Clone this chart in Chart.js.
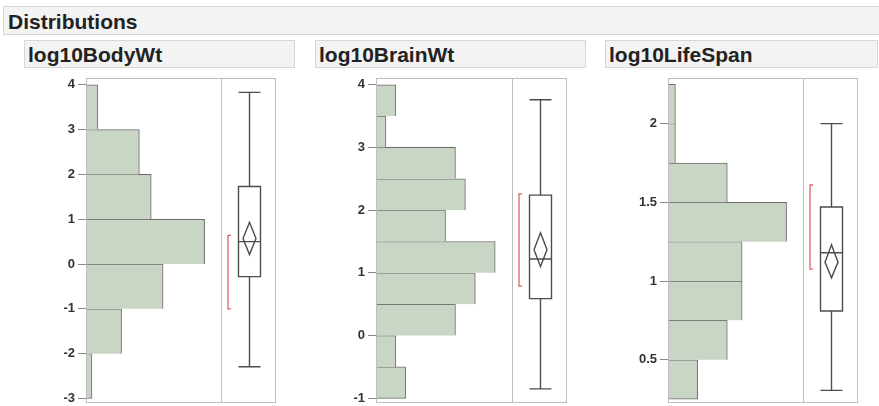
<!DOCTYPE html>
<html>
<head>
<meta charset="utf-8">
<script src="https://cdn.jsdelivr.net/npm/chart.js@4.4.1/dist/chart.umd.min.js"></script>
<style>
  body { margin: 0; width: 879px; height: 406px; background: #fff; overflow: hidden; position: relative;
         font-family: "Liberation Sans", Arial, sans-serif; }
  .hdr { position: absolute; background: #f3f3f3; border: 1px solid #d6d6d6; box-sizing: border-box;
         font-weight: bold; color: #222; white-space: nowrap; }
  .main { left: 3px; top: 6px; width: 890px; height: 29px; font-size: 21px; line-height: 29px; padding-left: 4px; }
  .sub { top: 40px; height: 28px; font-size: 21px; line-height: 28px; padding-left: 3px; }
  .panel { position: absolute; top: 70px; }
</style>
</head>
<body>
<div class="hdr main">Distributions</div>
<div class="hdr sub" style="left:24px;width:271px">log10BodyWt</div>
<div class="hdr sub" style="left:315px;width:271px">log10BrainWt</div>
<div class="hdr sub" style="left:605px;width:273px">log10LifeSpan</div>

<div class="panel" style="left:40px"><canvas id="c1" width="237" height="336"></canvas></div>
<div class="panel" style="left:330px"><canvas id="c2" width="238" height="336"></canvas></div>
<div class="panel" style="left:622px"><canvas id="c3" width="237" height="336"></canvas></div>

<script>
// log10BodyWt histogram (bin lower edges, counts) and box plot summary
const bodyBins = [-3, -2, -1, 0, 1, 2, 3];
const bodyCounts = [1, 6, 13, 20, 11, 9, 2];
const bodyTicks = [-3, -2, -1, 0, 1, 2, 3, 4];
const bodyRange = [-3.1, 4.15];
const bodyBox = { lo: -2.29, q1: -0.28, med: 0.50, q3: 1.73, hi: 3.83, mean: 0.57, ciLo: 0.21, ciHi: 0.93, shLo: -1.0, shHi: 0.64 };

// log10BrainWt
const brainBins = [-1, -0.5, 0, 0.5, 1, 1.5, 2, 2.5, 3, 3.5];
const brainCounts = [3, 2, 8, 10, 12, 7, 9, 8, 1, 2];
const brainTicks = [-1, 0, 1, 2, 3, 4];
const brainRange = [-1.075, 4.107];
const brainBox = { lo: -0.85, q1: 0.59, med: 1.22, q3: 2.24, hi: 3.76, mean: 1.37, ciLo: 1.10, ciHi: 1.64, shLo: 0.79, shHi: 2.26 };

// log10LifeSpan
const lifeBins = [0.25, 0.5, 0.75, 1, 1.25, 1.5, 1.75, 2];
const lifeCounts = [4, 8, 10, 10, 16, 8, 1, 1];
const lifeTicks = [0.5, 1, 1.5, 2];
const lifeRange = [0.225, 2.29];
const lifeBox = { lo: 0.305, q1: 0.81, med: 1.18, q3: 1.47, hi: 2.0, mean: 1.12, ciLo: 1.02, ciHi: 1.23, shLo: 1.076, shHi: 1.61 };

Chart.defaults.font.family = '"Liberation Sans", Arial, sans-serif';

// frame, divider and the outlier box plot, all placed through the chart scales
const boxPlot = {
    id: 'boxPlot',
    afterDatasetsDraw(chart, args, opts) {
        const { ctx, chartArea: a, scales: { x, y } } = chart;
        const s = opts.stats;
        const divX = Math.round(x.getPixelForValue(opts.divider)) + 0.5;
        const cx = Math.round((divX + a.right) / 2) + 0.5;
        const half = 11, dHalf = 6.5;
        const py = v => y.getPixelForValue(v);

        ctx.save();
        ctx.strokeStyle = '#bdbdbd';
        ctx.lineWidth = 1;
        ctx.strokeRect(Math.round(a.left) + 0.5, Math.round(a.top) + 0.5, Math.round(a.width) - 1, Math.round(a.height) - 1);
        ctx.beginPath();
        ctx.moveTo(divX, a.top);
        ctx.lineTo(divX, a.bottom);
        ctx.stroke();

        ctx.strokeStyle = '#4d4d4d';
        ctx.lineWidth = 1.4;
        ctx.beginPath();
        // whiskers + caps
        ctx.moveTo(cx, py(s.hi)); ctx.lineTo(cx, py(s.q3));
        ctx.moveTo(cx, py(s.q1)); ctx.lineTo(cx, py(s.lo));
        ctx.moveTo(cx - half, py(s.hi)); ctx.lineTo(cx + half, py(s.hi));
        ctx.moveTo(cx - half, py(s.lo)); ctx.lineTo(cx + half, py(s.lo));
        // box + median
        ctx.rect(cx - half, py(s.q3), half * 2, py(s.q1) - py(s.q3));
        ctx.moveTo(cx - half, py(s.med)); ctx.lineTo(cx + half, py(s.med));
        ctx.stroke();

        // mean diamond
        ctx.beginPath();
        ctx.moveTo(cx, py(s.ciHi));
        ctx.lineTo(cx + dHalf, py(s.mean));
        ctx.lineTo(cx, py(s.ciLo));
        ctx.lineTo(cx - dHalf, py(s.mean));
        ctx.closePath();
        ctx.stroke();

        // shortest half bracket
        const bx = divX + 6.5;
        ctx.strokeStyle = '#e2606e';
        ctx.lineWidth = 1.3;
        ctx.beginPath();
        ctx.moveTo(bx + 3, py(s.shHi)); ctx.lineTo(bx, py(s.shHi));
        ctx.lineTo(bx, py(s.shLo)); ctx.lineTo(bx + 3, py(s.shLo));
        ctx.stroke();
        ctx.restore();
    }
};

function makePanel(id, bins, counts, ticks, range, stats) {
    const step = bins[1] - bins[0];
    const maxCount = Math.max(...counts);
    new Chart(document.getElementById(id), {
        type: 'bar',
        data: {
            datasets: [{
                data: counts.map((c, i) => ({ x: c, y: bins[i] + step / 2 })),
                backgroundColor: '#c9d6c5',
                borderColor: '#6b6b6b',
                borderWidth: (c) => ({ top: 1, right: 1, bottom: c.dataIndex === 0 ? 1 : 0, left: 0 }),
                borderSkipped: false,
                barPercentage: 1,
                categoryPercentage: 1
            }]
        },
        options: {
            indexAxis: 'y',
            responsive: false,
            animation: false,
            layout: { padding: { top: 8, bottom: 3, right: 1, left: 0 } },
            scales: {
                x: { type: 'linear', display: false, min: 0, max: maxCount / 0.624 },
                y: {
                    type: 'linear',
                    min: range[0],
                    max: range[1],
                    offset: false,
                    afterBuildTicks: (scale) => { scale.ticks = ticks.map(v => ({ value: v })); },
                    afterFit: (scale) => { scale.width = 46; scale.paddingTop = 0; scale.paddingBottom = 0; },
                    border: { display: false },
                    grid: { offset: false, drawOnChartArea: false, tickLength: 8, color: '#8a8a8a' },
                    ticks: { padding: 3, color: '#333', font: { size: 13, weight: 'bold' }, callback: (v) => String(v) }
                }
            },
            plugins: {
                legend: { display: false },
                tooltip: { enabled: false },
                boxPlot: { stats: stats, divider: maxCount / 0.878 }
            }
        },
        plugins: [boxPlot]
    });
}

makePanel('c1', bodyBins, bodyCounts, bodyTicks, bodyRange, bodyBox);
makePanel('c2', brainBins, brainCounts, brainTicks, brainRange, brainBox);
makePanel('c3', lifeBins, lifeCounts, lifeTicks, lifeRange, lifeBox);
</script>
</body>
</html>
